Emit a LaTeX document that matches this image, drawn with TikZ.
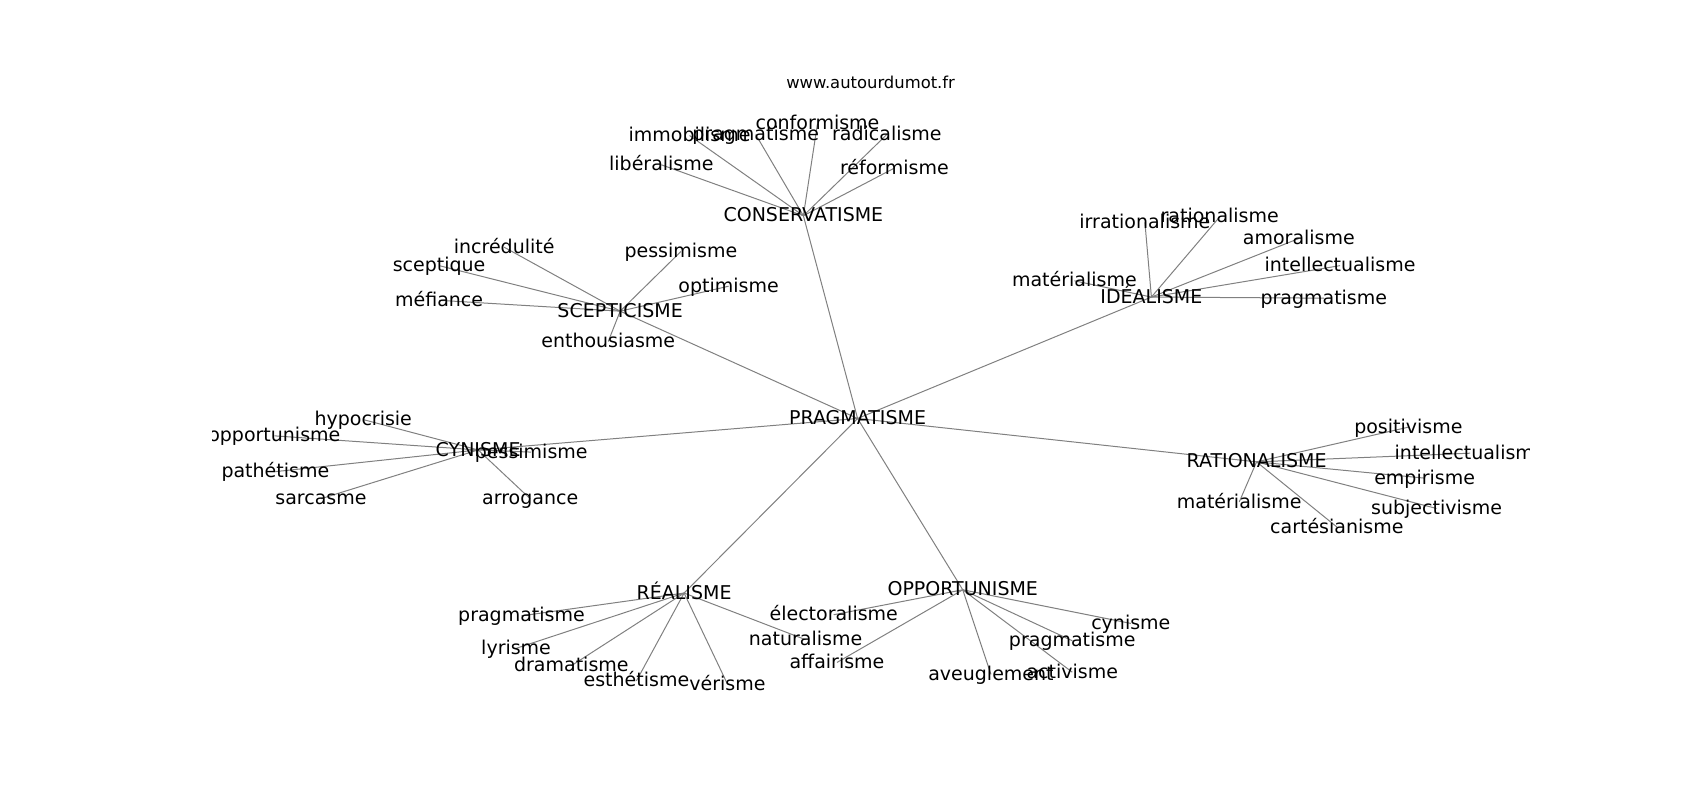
\documentclass[tikz,border=0pt]{standalone}
\usepackage{fontspec}
\setmainfont{DejaVu Sans}
\pgfdeclarelayer{bg}
\pgfsetlayers{bg,main}
\begin{document}
\begin{tikzpicture}[x=0.5421pt,y=-0.5421pt,
  lbl/.style={inner sep=0pt, font=\fontsize{9.5}{11}\selectfont, text=black, text height=7.5pt, text depth=1.4pt},
  ttl/.style={inner sep=0pt, font=\fontsize{8.2}{10}\selectfont, text=black},
  edge/.style={draw=gray, line width=0.5pt}]
\useasboundingbox (0,0) rectangle (1568,737.9);
\node[ttl] (title) at (803,76) {www.autourdumot.fr};
\begin{scope}
\clip (196,88.5) rectangle (1411,656.7);
% hubs
\node[lbl] (P) at (791,386) {PRAGMATISME};
\node[lbl] (C) at (741,199) {CONSERVATISME};
\node[lbl] (S) at (572,287) {SCEPTICISME};
\node[lbl] (I) at (1062,274) {IDÉALISME};
\node[lbl] (Y) at (441,415) {CYNISME};
\node[lbl] (R) at (1159,426) {RATIONALISME};
\node[lbl] (E) at (631,547) {RÉALISME};
\node[lbl] (O) at (888,544) {OPPORTUNISME};
% conservatisme
\node[lbl] (c1) at (754,114) {conformisme};
\node[lbl] (c2) at (636,125) {immobilisme};
\node[lbl] (c3) at (697,124) {pragmatisme};
\node[lbl] (c4) at (818,124) {radicalisme};
\node[lbl] (c5) at (610,152) {libéralisme};
\node[lbl] (c6) at (825,155) {réformisme};
% scepticisme
\node[lbl] (s1) at (465,228) {incrédulité};
\node[lbl] (s2) at (405,245) {sceptique};
\node[lbl] (s3) at (405,277) {méfiance};
\node[lbl] (s4) at (628,232) {pessimisme};
\node[lbl] (s5) at (672,264) {optimisme};
\node[lbl] (s6) at (561,315) {enthousiasme};
% idealisme
\node[lbl] (i1) at (1056,205) {irrationalisme};
\node[lbl] (i2) at (1125,200) {rationalisme};
\node[lbl] (i3) at (1198,220) {amoralisme};
\node[lbl] (i4) at (1236,245) {intellectualisme};
\node[lbl] (i5) at (991,259) {matérialisme};
\node[lbl] (i6) at (1221,275) {pragmatisme};
% cynisme
\node[lbl] (y1) at (335,387) {hypocrisie};
\node[lbl] (y2) at (253,402) {opportunisme};
\node[lbl] (y3) at (254,435) {pathétisme};
\node[lbl] (y4) at (296,460) {sarcasme};
\node[lbl] (y5) at (490,417) {pessimisme};
\node[lbl] (y6) at (489,460) {arrogance};
% rationalisme
\node[lbl] (r1) at (1299,394) {positivisme};
\node[lbl] (r2) at (1356,418) {intellectualisme};
\node[lbl] (r3) at (1314,441) {empirisme};
\node[lbl] (r4) at (1325,469) {subjectivisme};
\node[lbl] (r5) at (1143,463) {matérialisme};
\node[lbl] (r6) at (1233,486) {cartésianisme};
% realisme
\node[lbl] (e1) at (481,568) {pragmatisme};
\node[lbl] (e2) at (476,598) {lyrisme};
\node[lbl] (e3) at (527,614) {dramatisme};
\node[lbl] (e4) at (587,628) {esthétisme};
\node[lbl] (e5) at (671,631) {vérisme};
\node[lbl] (e6) at (743,590) {naturalisme};
% opportunisme
\node[lbl] (o1) at (769,567) {électoralisme};
\node[lbl] (o2) at (772,611) {affairisme};
\node[lbl] (o3) at (914,622) {aveuglement};
\node[lbl] (o4) at (989,620) {activisme};
\node[lbl] (o5) at (989,591) {pragmatisme};
\node[lbl] (o6) at (1043,575) {cynisme};
\end{scope}
\begin{pgfonlayer}{bg}
\foreach \h in {C,S,I,Y,R,E,O} \draw[edge] (P.center) -- (\h.center);
\foreach \n in {1,...,6} {
  \draw[edge] (C.center) -- (c\n.center);
  \draw[edge] (S.center) -- (s\n.center);
  \draw[edge] (I.center) -- (i\n.center);
  \draw[edge] (Y.center) -- (y\n.center);
  \draw[edge] (R.center) -- (r\n.center);
  \draw[edge] (E.center) -- (e\n.center);
  \draw[edge] (O.center) -- (o\n.center);
}
\end{pgfonlayer}
\end{tikzpicture}
\end{document}
